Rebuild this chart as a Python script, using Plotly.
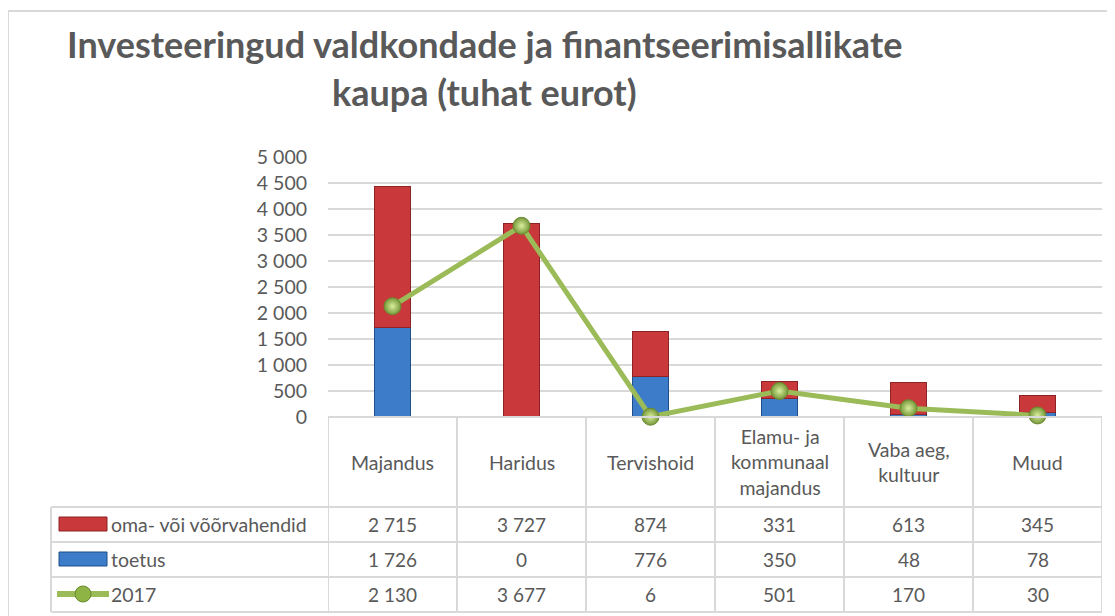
import plotly.graph_objects as go

categories = ["Majandus", "Haridus", "Tervishoid", "Elamu- ja kommunaal majandus", "Vaba aeg, kultuur", "Muud"]
header_labels = ["Majandus", "Haridus", "Tervishoid", "Elamu- ja<br>kommunaal<br>majandus", "Vaba aeg,<br>kultuur", "Muud"]
oma = [2715, 3727, 874, 331, 613, 345]
toetus = [1726, 0, 776, 350, 48, 78]
y2017 = [2130, 3677, 6, 501, 170, 30]
series_names = ["oma- või võõrvahendid", "toetus", "2017"]
title_lines = ["Investeeringud valdkondade ja finantseerimisallikate", "kaupa (tuhat eurot)"]

# page body has an 8px margin, so the figure is offset by (8, 8)
OX, OY = 8, 8
W, H = 1115 - OX, 616 - OY
L, R, T, B = 328, 1102, 157, 417   # plot area in page pixels
FONT = "Lato"
GRAY = "#595959"
GRID = "#d9d9d9"
RED = "#c9383a"
RED_D = "#8e2325"
BLUE = "#3d7cc9"
BLUE_D = "#1f4e8a"
GREEN = "#9bbb59"


def px(x):
    return (x - L) / (R - L)


def py(y):
    return (B - y) / (B - T)


def fmt(v):
    return f"{v:,}".replace(",", " ")


fig = go.Figure()
fig.add_trace(go.Bar(x=categories, y=toetus, name=series_names[1], marker=dict(color=BLUE, line=dict(color=BLUE_D, width=1))))
fig.add_trace(go.Bar(x=categories, y=oma, name=series_names[0], marker=dict(color=RED, line=dict(color=RED_D, width=1))))
fig.add_trace(go.Scatter(
    x=categories, y=y2017, name=series_names[2], mode="lines+markers",
    line=dict(color=GREEN, width=5),
    marker=dict(size=17, color="#76973a", gradient=dict(type="radial", color="#d9ef9c"),
                line=dict(color="#6a8a2f", width=1)),
    cliponaxis=False,
))

shapes = []
# chart border
shapes.append(dict(type="rect", xref="paper", yref="paper", x0=px(8), x1=px(1140), y0=py(11), y1=py(650),
                   line=dict(color=GRID, width=2), layer="below"))
# table lines
tl = dict(color=GRID, width=2)
shapes.append(dict(type="line", xref="paper", yref="paper", x0=px(L), x1=px(R), y0=py(417), y1=py(417), line=tl))
for yy in [507, 542, 577, 612]:
    shapes.append(dict(type="line", xref="paper", yref="paper", x0=px(51), x1=px(R), y0=py(yy), y1=py(yy), line=tl))
shapes.append(dict(type="line", xref="paper", yref="paper", x0=px(51), x1=px(51), y0=py(507), y1=py(612), line=tl))
for i in range(len(categories) + 1):
    shapes.append(dict(type="line", xref="x", yref="paper", x0=i - 0.5, x1=i - 0.5, y0=py(417), y1=py(612), line=tl))
# legend keys
shapes.append(dict(type="rect", xref="paper", yref="paper", x0=px(59), x1=px(107), y0=py(517), y1=py(531),
                   fillcolor=RED, line=dict(color=RED_D, width=1)))
shapes.append(dict(type="rect", xref="paper", yref="paper", x0=px(59), x1=px(107), y0=py(552), y1=py(566),
                   fillcolor=BLUE, line=dict(color=BLUE_D, width=1)))
shapes.append(dict(type="line", xref="paper", yref="paper", x0=px(57), x1=px(109), y0=py(594), y1=py(594),
                   line=dict(color=GREEN, width=6)))
shapes.append(dict(type="circle", xref="paper", yref="paper", x0=px(75), x1=px(91), y0=py(586), y1=py(602),
                   fillcolor="#8fb446", line=dict(color="#6a8a2f", width=1)))

ann = []
tf = dict(family=FONT, size=19.5, color=GRAY)
for i, lab in enumerate(header_labels):
    ann.append(dict(x=categories[i], y=py(462), xref="x", yref="paper", text=lab, showarrow=False,
                    font=tf, xanchor="center", yanchor="middle"))
rows = [(oma, 524.5), (toetus, 559.5), (y2017, 594.5)]
for vals, yc in rows:
    for i, v in enumerate(vals):
        ann.append(dict(x=categories[i], y=py(yc), xref="x", yref="paper", text=fmt(v), showarrow=False,
                        font=dict(family=FONT, size=19, color=GRAY), xanchor="center", yanchor="middle"))
for name, yc in zip(series_names, [524.5, 559.5, 594.5]):
    ann.append(dict(x=px(109), y=py(yc), xref="paper", yref="paper", text=name, showarrow=False,
                    font=tf, xanchor="left", yanchor="middle"))
for line, yc in zip(title_lines, [44, 92]):
    ann.append(dict(x=px(484), y=py(yc), xref="paper", yref="paper", text=f"<b>{line}</b>", showarrow=False,
                    font=dict(family=FONT, size=36, color=GRAY), xanchor="center", yanchor="middle"))

fig.update_layout(
    width=W, height=H,
    margin=dict(l=L - OX, r=W - (R - OX), t=T - OY, b=H - (B - OY), pad=0),
    paper_bgcolor="white", plot_bgcolor="white",
    barmode="stack", bargap=0.72,
    showlegend=False,
    separators=", ",
    font=dict(family=FONT, color=GRAY),
    xaxis=dict(type="category", range=[-0.5, len(categories) - 0.5], showticklabels=False, showgrid=False,
               zeroline=False, showline=False, fixedrange=True),
    yaxis=dict(range=[0, 5000], dtick=500, tickformat=",d", showgrid=True, gridcolor=GRID, gridwidth=1.5,
               zeroline=False, showline=False, ticks="", ticklabelstandoff=20,
               tickfont=dict(family=FONT, size=19.5, color=GRAY)),
    shapes=shapes, annotations=ann,
)

fig.write_html("out.html")
